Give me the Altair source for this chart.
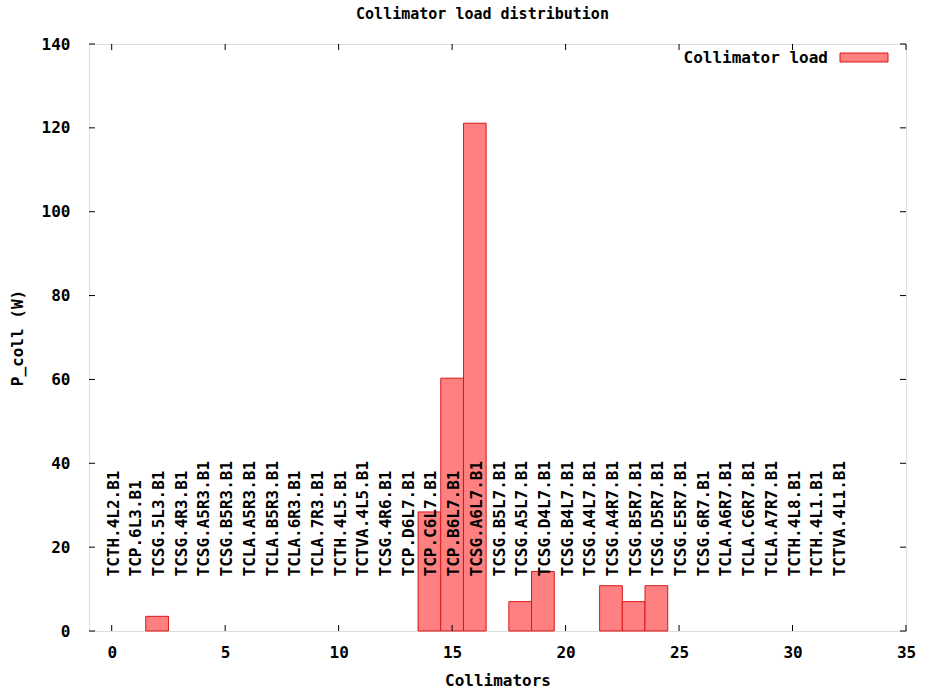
import altair as alt
import pandas as pd

names = [
    "TCTH.4L2.B1", "TCP.6L3.B1", "TCSG.5L3.B1", "TCSG.4R3.B1", "TCSG.A5R3.B1",
    "TCSG.B5R3.B1", "TCLA.A5R3.B1", "TCLA.B5R3.B1", "TCLA.6R3.B1", "TCLA.7R3.B1",
    "TCTH.4L5.B1", "TCTVA.4L5.B1", "TCSG.4R6.B1", "TCP.D6L7.B1", "TCP.C6L7.B1",
    "TCP.B6L7.B1", "TCSG.A6L7.B1", "TCSG.B5L7.B1", "TCSG.A5L7.B1", "TCSG.D4L7.B1",
    "TCSG.B4L7.B1", "TCSG.A4L7.B1", "TCSG.A4R7.B1", "TCSG.B5R7.B1", "TCSG.D5R7.B1",
    "TCSG.E5R7.B1", "TCSG.6R7.B1", "TCLA.A6R7.B1", "TCLA.C6R7.B1", "TCLA.A7R7.B1",
    "TCTH.4L8.B1", "TCTH.4L1.B1", "TCTVA.4L1.B1",
]
loads = [
    0, 0, 3.5, 0, 0,
    0, 0, 0, 0, 0,
    0, 0, 0, 0, 28.4,
    60.3, 121.1, 0, 7.0, 14.2,
    0, 0, 10.8, 7.0, 10.8,
    0, 0, 0, 0, 0,
    0, 0, 0,
]
x_ticks = [0, 5, 10, 15, 20, 25, 30, 35]
y_ticks = [0, 20, 40, 60, 80, 100, 120, 140]

W, H = 817, 587
FONT = "DejaVu Sans Mono"
FILL = "#ff8080"
EDGE = "#d81818"
LABEL_Y = 13
TICK = 6

df = pd.DataFrame({"idx": list(range(len(names))), "name": names, "load": loads})
df["x0"] = df["idx"] - 0.5
df["x1"] = df["idx"] + 0.5

xscale = alt.Scale(domain=[-1, 35], nice=False, zero=False)
yscale = alt.Scale(domain=[0, 140], nice=False)

xaxis = alt.Axis(values=x_ticks, ticks=False, domain=False, grid=False,
                 labelFont=FONT, labelFontSize=16, labelFontWeight="bold",
                 labelColor="black", labelPadding=13, labelFlush=False,
                 title="Collimators", titleFont=FONT, titleFontSize=16,
                 titleFontWeight="bold", titleColor="black", titlePadding=12)
yaxis = alt.Axis(values=y_ticks, ticks=False, domain=False, grid=False,
                 labelFont=FONT, labelFontSize=16, labelFontWeight="bold",
                 labelColor="black", labelPadding=19, labelFlush=False,
                 title="P_coll (W)", titleFont=FONT, titleFontSize=16,
                 titleFontWeight="bold", titleColor="black", titlePadding=16)

bars = alt.Chart(df).transform_filter("datum.load > 0").mark_rect(
    fill=FILL, stroke=EDGE, strokeWidth=1
).encode(
    x=alt.X("x0:Q", scale=xscale, axis=xaxis),
    x2="x1:Q",
    y=alt.Y("load:Q", scale=yscale, axis=yaxis),
    y2=alt.datum(0),
)

labels = alt.Chart(df).mark_text(
    angle=270, align="left", baseline="middle", font=FONT, fontSize=16,
    fontWeight="bold", color="black", dy=2
).encode(
    x=alt.X("idx:Q", scale=xscale),
    y=alt.datum(LABEL_Y),
    text="name:N",
)

xt = pd.DataFrame({"v": x_ticks})
yt = pd.DataFrame({"v": y_ticks})
tick_bottom = alt.Chart(xt).mark_rule(color="black").encode(
    x=alt.X("v:Q", scale=xscale), y=alt.value(H), y2=alt.value(H - TICK))
tick_top = alt.Chart(xt).mark_rule(color="black").encode(
    x=alt.X("v:Q", scale=xscale), y=alt.value(0), y2=alt.value(TICK))
tick_left = alt.Chart(yt).mark_rule(color="black").encode(
    y=alt.Y("v:Q", scale=yscale), x=alt.value(0), x2=alt.value(TICK))
tick_right = alt.Chart(yt).mark_rule(color="black").encode(
    y=alt.Y("v:Q", scale=yscale), x=alt.value(W), x2=alt.value(W - TICK))

one = pd.DataFrame({"a": [0]})
leg_text = alt.Chart(one).mark_text(
    align="right", baseline="middle", font=FONT, fontSize=16,
    fontWeight="bold", color="black"
).encode(x=alt.value(739), y=alt.value(14), text=alt.value("Collimator load"))
leg_box = alt.Chart(one).mark_rect(fill=FILL, stroke=EDGE, strokeWidth=1).encode(
    x=alt.value(751), x2=alt.value(799), y=alt.value(9), y2=alt.value(18))

chart = alt.layer(
    bars, labels, tick_bottom, tick_top, tick_left, tick_right, leg_text, leg_box
).properties(
    width=W, height=H,
    title=alt.TitleParams("Collimator load distribution", font=FONT, fontSize=15,
                          fontWeight="bold", color="black", anchor="middle",
                          frame="group", dx=-15, offset=14),
    padding={"left": 89, "top": 44, "right": 19, "bottom": 62},
    autosize="none",
).configure_view(stroke="black", strokeWidth=1.5).configure(background="white")

chart.save("out.html", embed_options={"renderer": "svg", "actions": False})
